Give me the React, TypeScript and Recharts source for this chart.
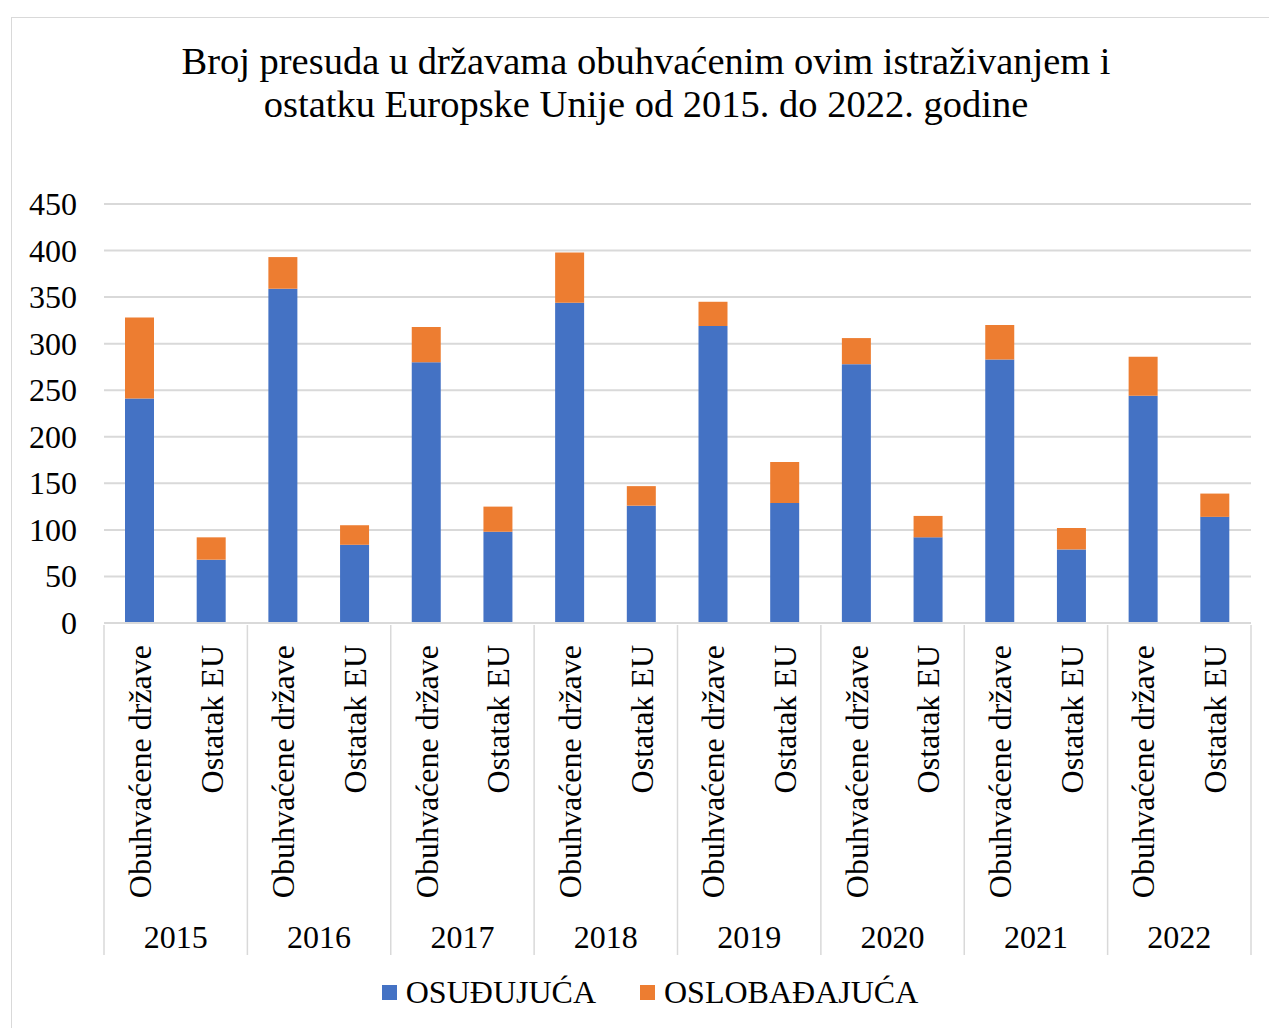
import React from "react";
import { BarChart, Bar, XAxis, YAxis, CartesianGrid } from "recharts";

const years = ["2015", "2016", "2017", "2018", "2019", "2020", "2021", "2022"];
const groups = ["Obuhvaćene države", "Ostatak EU"];
const osudjujuca = [241, 68, 359, 84, 280, 98, 344, 126, 319, 129, 278, 92, 283, 79, 244, 114];
const oslobadjajuca = [87, 24, 34, 21, 38, 27, 54, 21, 26, 44, 28, 23, 37, 23, 42, 25];
const yTicks = [0, 50, 100, 150, 200, 250, 300, 350, 400, 450];

const BLUE = "#4472C4";
const ORANGE = "#ED7D31";
const GRID = "#d9d9d9";
const FONT = "Liberation Serif, Times New Roman, serif";
const FS = 32;

const data = osudjujuca.map((v, i) => ({
  label: groups[i % 2],
  year: years[Math.floor(i / 2)],
  osudjujuca: v,
  oslobadjajuca: oslobadjajuca[i],
}));

const CHART_W = 1269;
const CHART_H = 1028;
const margin = { top: 204, right: 18, left: 14, bottom: 75 };
const Y_W = 90;
const PLOT_W = CHART_W - margin.left - margin.right - Y_W;
const BAND = PLOT_W / data.length;

const textStyle = { fontFamily: FONT, fontSize: FS, fill: "#000" };

function CategoryTick(props: any) {
  const { x, y, payload } = props;
  const i = payload.index;
  const row = data[i];
  return (
    <g>
      <text
        x={x + 11}
        y={y + 20}
        transform={`rotate(-90, ${x + 11}, ${y + 20})`}
        textAnchor="end"
        style={textStyle}
      >
        {row.label}
      </text>
      {i % 2 === 0 && (
        <>
          <line x1={x - BAND / 2} x2={x - BAND / 2} y1={y} y2={y + 330} stroke={GRID} strokeWidth={1.5} />
          <text x={x + BAND / 2} y={y + 323} textAnchor="middle" style={textStyle}>
            {row.year}
          </text>
        </>
      )}
      {i === data.length - 1 && (
        <line x1={x + BAND / 2} x2={x + BAND / 2} y1={y} y2={y + 330} stroke={GRID} strokeWidth={1.5} />
      )}
    </g>
  );
}

function ValueTick(props: any) {
  const { x, y, payload } = props;
  return (
    <text x={x} y={y} dy={11} textAnchor="end" style={textStyle}>
      {payload.value}
    </text>
  );
}

const legendItems = [
  { name: "OSUĐUJUĆA", color: BLUE },
  { name: "OSLOBAĐAJUĆA", color: ORANGE },
];

export default function App() {
  return (
    <div style={{ position: "absolute", left: 0, top: 0, width: CHART_W, height: CHART_H, background: "#fff", fontFamily: FONT }}>
      <div
        style={{
          position: "absolute",
          left: 11,
          top: 17,
          width: CHART_W - 11,
          height: CHART_H - 17,
          borderTop: `1.5px solid ${GRID}`,
          borderLeft: `1.5px solid ${GRID}`,
          boxSizing: "border-box",
        }}
      />
      <div
        style={{
          position: "absolute",
          left: 11,
          top: 40,
          width: 1270,
          textAlign: "center",
          fontSize: 38.5,
          lineHeight: "43px",
          color: "#000",
        }}
      >
        Broj presuda u državama obuhvaćenim ovim istraživanjem i
        <br />
        ostatku Europske Unije od 2015. do 2022. godine
      </div>
      <div style={{ position: "absolute", left: 0, top: 0 }}>
        <BarChart width={CHART_W} height={CHART_H} data={data} margin={margin}>
          <CartesianGrid vertical={false} stroke={GRID} strokeWidth={2} />
          <XAxis
            dataKey="label"
            interval={0}
            height={330}
            tickLine={false}
            tickSize={0}
            axisLine={{ stroke: GRID, strokeWidth: 2 }}
            tick={<CategoryTick />}
          />
          <YAxis
            width={Y_W}
            domain={[0, 450]}
            ticks={yTicks}
            interval={0}
            axisLine={false}
            tickLine={false}
            tickSize={0}
            tickMargin={27}
            tick={<ValueTick />}
          />
          <Bar dataKey="osudjujuca" stackId="a" fill={BLUE} barSize={29} isAnimationActive={false} />
          <Bar dataKey="oslobadjajuca" stackId="a" fill={ORANGE} barSize={29} isAnimationActive={false} />
        </BarChart>
      </div>
      <div
        style={{
          position: "absolute",
          left: 0,
          top: 972,
          width: 1300,
          display: "flex",
          justifyContent: "center",
          gap: 44,
          fontSize: FS,
          lineHeight: "40px",
          color: "#000",
        }}
      >
        {legendItems.map((it) => (
          <div key={it.name} style={{ display: "flex", alignItems: "center" }}>
            <span style={{ display: "inline-block", width: 15, height: 15, background: it.color, marginRight: 9 }} />
            {it.name}
          </div>
        ))}
      </div>
    </div>
  );
}
